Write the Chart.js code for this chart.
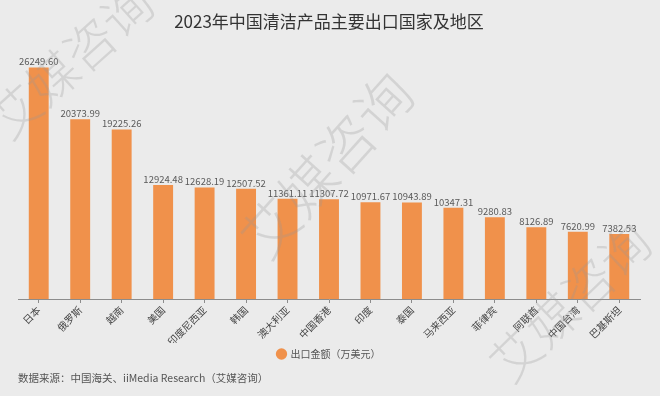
<!DOCTYPE html>
<html>
<head>
<meta charset="utf-8">
<script src="https://cdn.jsdelivr.net/npm/chart.js@4/dist/chart.umd.min.js"></script>
<style>
  html, body { margin: 0; padding: 0; background: #ebebeb; }
  #wrap { width: 660px; height: 396px; position: relative; }
</style>
</head>
<body>
<div id="wrap"><canvas id="c" width="660" height="396"></canvas></div>
<script>
const categories = ["日本","俄罗斯","越南","美国","印度尼西亚","韩国","澳大利亚","中国香港","印度","泰国","马来西亚","菲律宾","阿联酋","中国台湾","巴基斯坦"];
const exportValues = [26249.60, 20373.99, 19225.26, 12924.48, 12628.19, 12507.52, 11361.11, 11307.72, 10971.67, 10943.89, 10347.31, 9280.83, 8126.89, 7620.99, 7382.53];
const seriesName = "出口金额（万美元）";
const titleText = "2023年中国清洁产品主要出口国家及地区";
const sourceText = "数据来源：中国海关、iiMedia Research（艾媒咨询）";
const watermarkText = "艾媒咨询";

const FONT = "'Noto Sans CJK SC', 'Noto Sans', sans-serif";

const bgPlugin = {
  id: 'bg',
  beforeDraw(chart) {
    const ctx = chart.ctx;
    ctx.save();
    ctx.fillStyle = '#ebebeb';
    ctx.fillRect(0, 0, chart.width, chart.height);
    ctx.restore();
  }
};

const valueLabels = {
  id: 'valueLabels',
  afterDatasetsDraw(chart) {
    const ctx = chart.ctx;
    const meta = chart.getDatasetMeta(0);
    ctx.save();
    ctx.font = "9.5px " + FONT;
    ctx.fillStyle = '#595959';
    ctx.textAlign = 'center';
    ctx.textBaseline = 'bottom';
    meta.data.forEach((bar, i) => {
      ctx.fillText(chart.data.datasets[0].data[i].toFixed(2), bar.x, bar.y - 1);
    });
    ctx.restore();
  }
};

// Decorative watermark (as in the source image)
const watermark = {
  id: 'watermark',
  afterDraw(chart) {
    const ctx = chart.ctx;
    const marks = [
      { x: 71, y: 61, size: 50, angle: -42 },
      { x: 327, y: 165, size: 56, angle: -48 },
      { x: 570, y: 302, size: 50, angle: -44 }
    ];
    ctx.save();
    ctx.fillStyle = 'rgba(150,150,150,0.28)';
    ctx.textAlign = 'center';
    ctx.textBaseline = 'middle';
    marks.forEach(m => {
      ctx.save();
      ctx.translate(m.x, m.y);
      ctx.rotate(m.angle * Math.PI / 180);
      ctx.font = "300 " + m.size + "px " + FONT;
      ctx.fillText(watermarkText, 0, 0);
      ctx.restore();
    });
    ctx.restore();
  }
};

new Chart(document.getElementById('c'), {
  type: 'bar',
  data: {
    labels: categories,
    datasets: [{
      label: seriesName,
      data: exportValues,
      backgroundColor: '#f0914b',
      borderWidth: 0,
      barPercentage: 0.48,
      categoryPercentage: 1.0
    }]
  },
  options: {
    responsive: false,
    animation: false,
    devicePixelRatio: 1,
    layout: { padding: { left: 18, right: 20, top: 0, bottom: 12 } },
    plugins: {
      title: {
        display: true,
        text: titleText,
        color: '#333333',
        font: { family: FONT, size: 17, weight: 'normal' },
        padding: { top: 11, bottom: 3 }
      },
      subtitle: {
        display: true,
        text: sourceText,
        position: 'bottom',
        align: 'start',
        color: '#555555',
        font: { family: FONT, size: 10.5, weight: 'normal' },
        padding: { top: 2.4, bottom: 0 }
      },
      legend: {
        display: true,
        position: 'bottom',
        labels: {
          usePointStyle: true,
          pointStyle: 'circle',
          boxWidth: 8,
          boxHeight: 8,
          color: '#555555',
          font: { family: FONT, size: 10 },
          padding: 6
        }
      },
      tooltip: { enabled: false }
    },
    scales: {
      x: {
        offset: true,
        afterFit(scale) { scale.height = 44; },
        grid: { display: true, drawOnChartArea: false, offset: false, tickLength: 4, color: '#8c8c8c' },
        border: { display: true, color: '#8c8c8c', width: 1 },
        ticks: {
          autoSkip: false,
          maxRotation: 45,
          minRotation: 45,
          color: '#444444',
          font: { family: FONT, size: 10 },
          padding: 1
        }
      },
      y: {
        display: false,
        min: 0,
        max: 30000
      }
    }
  },
  plugins: [bgPlugin, valueLabels, watermark]
});
</script>
</body>
</html>
